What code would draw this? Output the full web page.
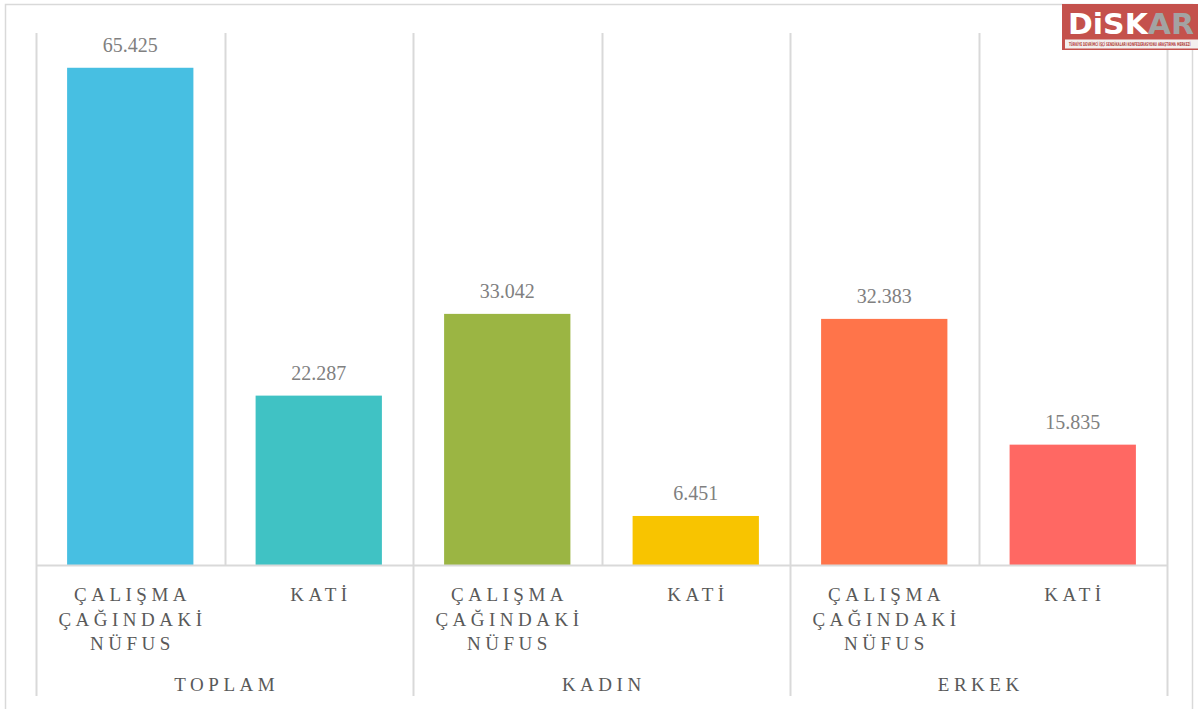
<!DOCTYPE html>
<html>
<head>
<meta charset="utf-8">
<script src="https://cdn.jsdelivr.net/npm/d3@7"></script>
<style>
  body { margin: 0; background: #fff; }
  svg { display: block; }
</style>
</head>
<body>
<div id="chart"></div>
<script>
  const groups = ["TOPLAM", "KADIN", "ERKEK"];
  const subCategories = [["ÇALIŞMA", "ÇAĞINDAKİ", "NÜFUS"], ["KATİ"]];
  const values = [65.425, 22.287, 33.042, 6.451, 32.383, 15.835];
  const barColors = ["#47bfe2", "#40c2c4", "#9bb543", "#f8c400", "#ff744a", "#ff6863"];

  const width = 1198;
  const height = 709;
  const gridColor = "#d9d9d9";
  const labelFont = "'Liberation Serif', 'DejaVu Serif', serif";

  const svg = d3
    .select("#chart")
    .append("svg")
    .attr("width", width)
    .attr("height", height);

  // chart frame
  svg
    .append("rect")
    .attr("x", 5.5)
    .attr("y", 4.5)
    .attr("width", 1187)
    .attr("height", 710)
    .attr("fill", "#fff")
    .attr("stroke", gridColor)
    .attr("stroke-width", 1.5);

  const plot = { left: 36, right: 1167, top: 33, bottom: 565 };

  const rows = [];
  groups.forEach((g, gi) =>
    subCategories.forEach((s, si) =>
      rows.push({
        key: `${g}-${si}`,
        group: g,
        lines: s,
        value: values[gi * subCategories.length + si],
        color: barColors[gi * subCategories.length + si]
      })
    )
  );

  const x = d3
    .scaleBand()
    .domain(rows.map(d => d.key))
    .range([plot.left, plot.right])
    .paddingInner(0.33)
    .paddingOuter(0.165);

  const xGroup = d3
    .scaleBand()
    .domain(groups)
    .range([plot.left, plot.right]);

  const y = d3
    .scaleLinear()
    .domain([0, 70])
    .range([plot.bottom, plot.top]);

  // vertical gridlines between categories
  const grid = svg.append("g");
  rows.forEach((d, i) => {
    const gx = Math.round(plot.left + (i * (plot.right - plot.left)) / rows.length) + 0.5;
    const isGroupEdge = i % subCategories.length === 0;
    grid
      .append("line")
      .attr("x1", gx)
      .attr("x2", gx)
      .attr("y1", plot.top)
      .attr("y2", isGroupEdge ? 696 : plot.bottom)
      .attr("stroke", gridColor)
      .attr("stroke-width", 2);
  });
  grid
    .append("line")
    .attr("x1", plot.right + 0.5)
    .attr("x2", plot.right + 0.5)
    .attr("y1", plot.top)
    .attr("y2", 696)
    .attr("stroke", gridColor)
    .attr("stroke-width", 2);

  // bars
  svg
    .append("g")
    .selectAll("rect")
    .data(rows)
    .enter()
    .append("rect")
    .attr("x", d => x(d.key))
    .attr("width", x.bandwidth())
    .attr("y", d => y(d.value))
    .attr("height", d => y(0) - y(d.value))
    .attr("fill", d => d.color);

  // axis line
  svg
    .append("line")
    .attr("x1", plot.left)
    .attr("x2", plot.right + 1)
    .attr("y1", plot.bottom + 0.5)
    .attr("y2", plot.bottom + 0.5)
    .attr("stroke", gridColor)
    .attr("stroke-width", 2);

  // value labels
  svg
    .append("g")
    .selectAll("text")
    .data(rows)
    .enter()
    .append("text")
    .attr("x", d => x(d.key) + x.bandwidth() / 2)
    .attr("y", d => y(d.value) - 16)
    .attr("text-anchor", "middle")
    .style("font-family", labelFont)
    .style("font-size", "20px")
    .style("fill", "#808080")
    .text(d => d3.format(".3f")(d.value));

  // category labels
  const LS = 4.5;
  const catLabels = svg
    .append("g")
    .selectAll("text")
    .data(rows)
    .enter()
    .append("text")
    .attr("text-anchor", "middle")
    .style("font-family", labelFont)
    .style("font-size", "19px")
    .style("letter-spacing", `${LS}px`)
    .style("fill", "#595959");

  catLabels
    .selectAll("tspan")
    .data(d => d.lines.map(l => ({ l, cx: x(d.key) + x.bandwidth() / 2 })))
    .enter()
    .append("tspan")
    .attr("x", d => d.cx + LS / 2)
    .attr("y", (d, i) => 601 + i * 24.5)
    .text(d => d.l);

  // group labels
  svg
    .append("g")
    .selectAll("text")
    .data(groups)
    .enter()
    .append("text")
    .attr("x", d => xGroup(d) + xGroup.bandwidth() / 2 + LS / 2)
    .attr("y", 691)
    .attr("text-anchor", "middle")
    .style("font-family", labelFont)
    .style("font-size", "19px")
    .style("letter-spacing", `${LS}px`)
    .style("fill", "#595959")
    .text(d => d);

  // logo
  const logo = svg.append("g");
  logo
    .append("rect")
    .attr("x", 1062)
    .attr("y", 4)
    .attr("width", 136)
    .attr("height", 46)
    .attr("fill", "#c4514c");
  logo
    .append("rect")
    .attr("x", 1065)
    .attr("y", 39.5)
    .attr("width", 133)
    .attr("height", 9)
    .attr("fill", "#f3f0ef");
  const logoText = logo
    .append("text")
    .attr("x", 1068)
    .attr("y", 34)
    .attr("textLength", 126)
    .attr("lengthAdjust", "spacingAndGlyphs")
    .style("font-family", "'DejaVu Sans', sans-serif")
    .style("font-weight", "bold")
    .style("font-size", "28px");
  logoText.append("tspan").attr("fill", "#ffffff").text("DiSK");
  logoText.append("tspan").attr("fill", "#a3a3a3").text("AR");

  // tiny subtitle, squeezed horizontally to fit the strip
  const sub = logo
    .append("text")
    .attr("x", 0)
    .attr("y", 0)
    .style("font-family", "'DejaVu Sans Condensed', sans-serif")
    .style("font-size", "5px")
    .style("font-weight", "bold")
    .style("fill", "#b0403c")
    .text("TÜRKİYE DEVRİMCİ İŞÇİ SENDİKALARI KONFEDERASYONU ARAŞTIRMA MERKEZİ");
  const subLen = sub.node().getComputedTextLength();
  sub.attr("transform", `translate(1069,46) scale(${122 / subLen},1)`);
</script>
</body>
</html>
